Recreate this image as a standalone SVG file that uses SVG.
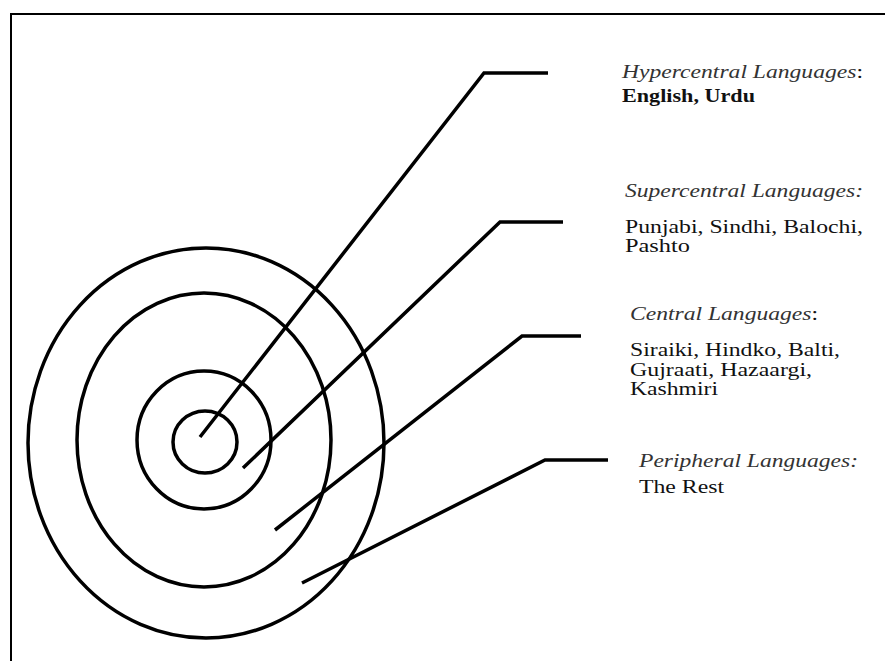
<svg xmlns="http://www.w3.org/2000/svg" width="885" height="661" viewBox="0 0 885 661">
<style>
.ring{fill:none;stroke:#000;stroke-width:3.5}
.lead{fill:none;stroke:#000;stroke-width:3.5;stroke-linejoin:miter}
text{font-family:"Liberation Serif","Times New Roman",serif;font-size:18px;fill:#111}
.h{font-style:italic;fill:#333}
.b{font-weight:bold}
</style>
<rect x="0" y="0" width="885" height="661" fill="#fff"/>
<rect x="11" y="14" width="900" height="700" fill="none" stroke="#000" stroke-width="2"/>
<g id="rings">
<g id="peripheral-ring"><ellipse class="ring" cx="206" cy="443" rx="178" ry="195"/></g>
<g id="central-ring"><ellipse class="ring" cx="204" cy="440" rx="127" ry="147"/></g>
<g id="supercentral-ring"><ellipse class="ring" cx="204" cy="440" rx="67" ry="69"/></g>
<g id="hypercentral-ring"><ellipse class="ring" cx="205" cy="442" rx="32" ry="31"/></g>
</g>
<g id="connectors">
<polyline class="lead" points="200,437 484,73 548,73"/>
<polyline class="lead" points="243,468 500,222 563,222"/>
<polyline class="lead" points="275,530 522,336 581,336"/>
<polyline class="lead" points="302,583 545,460 608,460"/>
</g>
<g id="label-hypercentral">
<text x="622" y="78" textLength="241" lengthAdjust="spacingAndGlyphs"><tspan class="h">Hypercentral Languages</tspan>:</text>
<text x="622" y="102" class="b" textLength="133" lengthAdjust="spacingAndGlyphs">English, Urdu</text>
</g>
<g id="label-supercentral">
<text x="625" y="197" class="h" textLength="238" lengthAdjust="spacingAndGlyphs">Supercentral Languages:</text>
<text x="625" y="233" textLength="238" lengthAdjust="spacingAndGlyphs">Punjabi, Sindhi, Balochi,</text>
<text x="625" y="252" textLength="65" lengthAdjust="spacingAndGlyphs">Pashto</text>
</g>
<g id="label-central">
<text x="630" y="320" textLength="188" lengthAdjust="spacingAndGlyphs"><tspan class="h">Central Languages</tspan>:</text>
<text x="630" y="356" textLength="210" lengthAdjust="spacingAndGlyphs">Siraiki, Hindko, Balti,</text>
<text x="630" y="376" textLength="182" lengthAdjust="spacingAndGlyphs">Gujraati, Hazaargi,</text>
<text x="630" y="395" textLength="88" lengthAdjust="spacingAndGlyphs">Kashmiri</text>
</g>
<g id="label-peripheral">
<text x="639" y="467" class="h" textLength="219" lengthAdjust="spacingAndGlyphs">Peripheral Languages:</text>
<text x="639" y="493" textLength="85" lengthAdjust="spacingAndGlyphs">The Rest</text>
</g>
</svg>
